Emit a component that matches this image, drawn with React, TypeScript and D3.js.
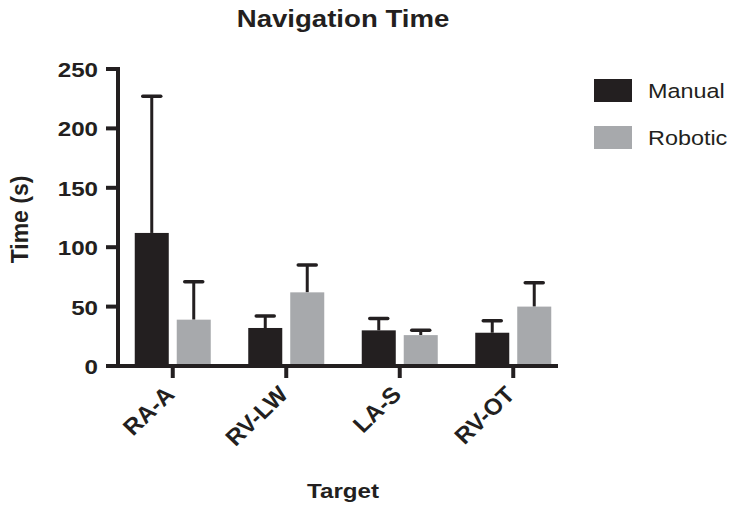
import React, { useEffect, useRef } from 'react';
import * as d3 from 'd3';

const targets = ['RA-A', 'RV-LW', 'LA-S', 'RV-OT'];
const seriesNames = ['Manual', 'Robotic'];
const manualMean = [112, 32, 30, 28];
const manualErr = [227, 42, 40, 38];
const roboticMean = [39, 62, 26, 50];
const roboticErr = [71, 85, 30, 70];
const yTicks = [0, 50, 100, 150, 200, 250];

const colors = ['#231f20', '#a7a9ac'];
const font = 'Arial, "Liberation Sans", Helvetica, sans-serif';
const stretch = 1.15;

export default function App() {
  const ref = useRef<SVGGElement>(null);

  useEffect(() => {
    const g = d3.select(ref.current);
    g.selectAll('*').remove();

    const x0 = 118;
    const x1 = 558;
    const yTop = 69;
    const yBot = 366;

    // text helper, the original is slightly stretched sideways
    const label = (parent: any, tf: string, txt: string, size: number, bold = true, anchor = 'middle') =>
      parent.append('text')
        .attr('transform', tf)
        .attr('text-anchor', anchor)
        .attr('font-family', font)
        .attr('font-weight', bold ? 'bold' : 'normal')
        .attr('font-size', size)
        .attr('fill', '#231f20')
        .text(txt);

    const y = d3.scaleLinear().domain([0, 250]).range([yBot, yTop]);
    const x = d3.scaleBand().domain(targets).range([116, 570]);
    const inner = d3.scaleBand().domain(seriesNames).range([0, 76]).paddingInner(0.19);
    const offset = (x.bandwidth() - 76) / 2;

    const data = targets.flatMap((t, i) => [
      { t, s: 'Manual', v: manualMean[i], e: manualErr[i], c: colors[0] },
      { t, s: 'Robotic', v: roboticMean[i], e: roboticErr[i], c: colors[1] },
    ]);

    // error bars (behind bars)
    const errs = g.append('g');
    data.forEach(d => {
      const cx = (x(d.t) as number) + offset + (inner(d.s) as number) + inner.bandwidth() / 2;
      errs.append('line')
        .attr('x1', cx).attr('x2', cx)
        .attr('y1', y(d.v)).attr('y2', y(d.e))
        .attr('stroke', '#231f20').attr('stroke-width', 3);
      errs.append('line')
        .attr('x1', cx - 9).attr('x2', cx + 9)
        .attr('y1', y(d.e)).attr('y2', y(d.e))
        .attr('stroke', '#231f20').attr('stroke-width', 3.5)
        .attr('stroke-linecap', 'round');
    });

    // bars
    g.append('g')
      .selectAll('rect')
      .data(data)
      .enter()
      .append('rect')
      .attr('x', d => (x(d.t) as number) + offset + (inner(d.s) as number))
      .attr('width', inner.bandwidth())
      .attr('y', d => y(d.v))
      .attr('height', d => yBot - y(d.v))
      .attr('fill', d => d.c);

    // y axis
    const yAxis = g.append('g');
    yAxis.append('line')
      .attr('x1', x0).attr('x2', x0)
      .attr('y1', yTop - 2).attr('y2', yBot + 2)
      .attr('stroke', '#231f20').attr('stroke-width', 4);
    yTicks.forEach(t => {
      yAxis.append('line')
        .attr('x1', x0 - 12).attr('x2', x0)
        .attr('y1', y(t)).attr('y2', y(t))
        .attr('stroke', '#231f20').attr('stroke-width', 4);
      label(yAxis, `translate(${x0 - 20}, ${y(t) + 8}) scale(${stretch},1)`, String(t), 21, true, 'end');
    });

    // x axis
    const xAxis = g.append('g');
    xAxis.append('line')
      .attr('x1', x0 - 2).attr('x2', x1)
      .attr('y1', yBot).attr('y2', yBot)
      .attr('stroke', '#231f20').attr('stroke-width', 4);
    targets.forEach(t => {
      const cx = (x(t) as number) + x.bandwidth() / 2;
      xAxis.append('line')
        .attr('x1', cx).attr('x2', cx)
        .attr('y1', yBot).attr('y2', yBot + 12)
        .attr('stroke', '#231f20').attr('stroke-width', 4);
      label(xAxis, `translate(${cx + 3}, ${yBot + 30}) scale(1.05,1) rotate(-45)`, t, 23, true, 'end');
    });

    // titles
    label(g, `translate(343, 27) scale(1.2,1)`, 'Navigation Time', 23);
    label(g, `translate(343, 498) scale(${stretch},1)`, 'Target', 21);
    label(g, `translate(28, ${(yTop + yBot) / 2 + 2}) scale(1.05,1) rotate(-90)`, 'Time (s)', 23);

    // legend
    const legend = g.append('g');
    seriesNames.forEach((s, i) => {
      legend.append('rect')
        .attr('x', 594).attr('y', 79 + i * 47)
        .attr('width', 38).attr('height', 23)
        .attr('fill', colors[i]);
      label(legend, `translate(648, ${98 + i * 47}) scale(1.2,1)`, s, 19.5, false, 'start');
    });
  }, []);

  return (
    <div style={{ position: 'absolute', left: 0, top: 0 }}>
      <svg width={734} height={508} style={{ display: 'block', background: '#fff' }}>
        <g ref={ref} />
      </svg>
    </div>
  );
}
